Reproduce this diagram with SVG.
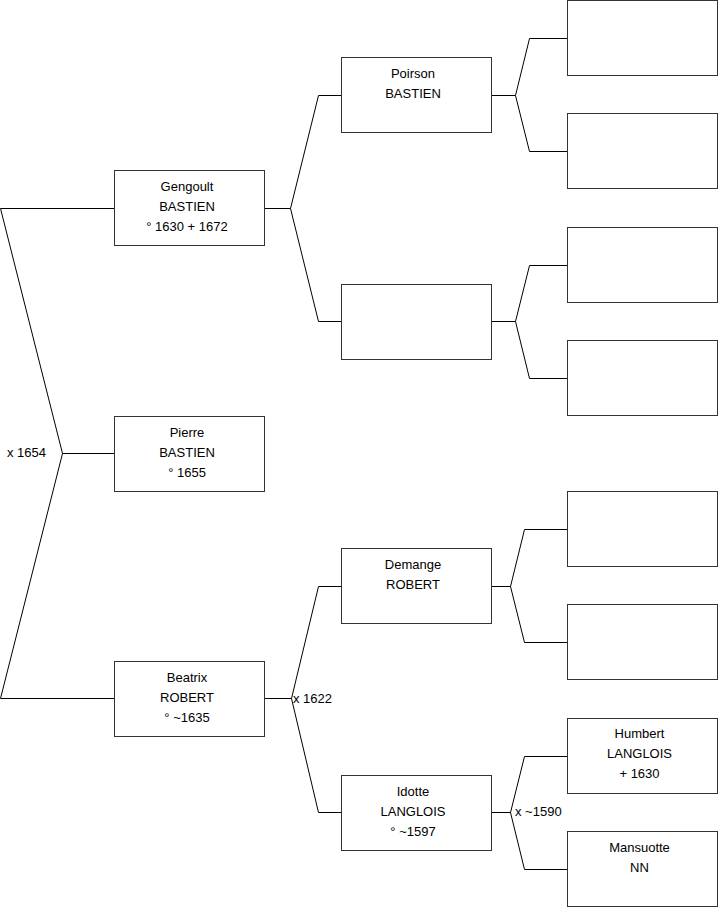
<svg xmlns="http://www.w3.org/2000/svg" width="719" height="908" viewBox="0 0 719 908">
<style>
.box{fill:#fff;stroke:#333;stroke-width:1}
.c{fill:none;stroke:#000;stroke-width:1}
text{font-family:"Liberation Sans",Arial,sans-serif;font-size:13px;fill:#000}
.m{text-anchor:middle}
</style>
<rect width="719" height="908" fill="#fff"/>
<g id="connectors">
<path class="c" d="M0.5,208.5 H114 M0.5,208.5 L62.5,453.5 L0.5,698.5 H114 M62.5,453.5 H114"/>
<path class="c" d="M265,208.5 H290.5 L318.5,95.5 H341 M290.5,208.5 L318.5,321.5 H341"/>
<path class="c" d="M265,698.5 H291.5 L318.5,586.5 H341 M291.5,698.5 L318.5,812.5 H341"/>
<path class="c" d="M491,95.5 H515.5 L529.5,38.5 H567 M515.5,95.5 L529.5,151.5 H567"/>
<path class="c" d="M491,321.5 H515.5 L529.5,265.5 H567 M515.5,321.5 L529.5,378.5 H567"/>
<path class="c" d="M491,586.5 H510.5 L524.5,529.5 H567 M510.5,586.5 L524.5,642.5 H567"/>
<path class="c" d="M491,812.5 H510.5 L524.5,756.5 H567 M510.5,812.5 L524.5,869.5 H567"/>
<text x="7" y="457">x 1654</text>
<text x="293" y="703">x 1622</text>
<text x="515" y="816">x ~1590</text>
</g>
<g id="gengoult"><rect class="box" x="114.5" y="170.5" width="150" height="75"/><text class="m" x="187" y="191">Gengoult</text><text class="m" x="187" y="211">BASTIEN</text><text class="m" x="187" y="231">° 1630 + 1672</text></g>
<g id="pierre"><rect class="box" x="114.5" y="416.5" width="150" height="75"/><text class="m" x="187" y="437">Pierre</text><text class="m" x="187" y="457">BASTIEN</text><text class="m" x="187" y="477">° 1655</text></g>
<g id="beatrix"><rect class="box" x="114.5" y="661.5" width="150" height="75"/><text class="m" x="187" y="682">Beatrix</text><text class="m" x="187" y="702">ROBERT</text><text class="m" x="187" y="722">° ~1635</text></g>
<g id="poirson"><rect class="box" x="341.5" y="57.5" width="150" height="75"/><text class="m" x="413" y="78">Poirson</text><text class="m" x="413" y="98">BASTIEN</text></g>
<g id="unknown1"><rect class="box" x="341.5" y="284.5" width="150" height="75"/></g>
<g id="demange"><rect class="box" x="341.5" y="548.5" width="150" height="75"/><text class="m" x="413" y="569">Demange</text><text class="m" x="413" y="589">ROBERT</text></g>
<g id="idotte"><rect class="box" x="341.5" y="775.5" width="150" height="75"/><text class="m" x="413" y="796">Idotte</text><text class="m" x="413" y="816">LANGLOIS</text><text class="m" x="413" y="836">° ~1597</text></g>
<g id="g3a"><rect class="box" x="567.5" y="0.5" width="150" height="75"/></g>
<g id="g3b"><rect class="box" x="567.5" y="113.5" width="150" height="75"/></g>
<g id="g3c"><rect class="box" x="567.5" y="227.5" width="150" height="75"/></g>
<g id="g3d"><rect class="box" x="567.5" y="340.5" width="150" height="75"/></g>
<g id="g3e"><rect class="box" x="567.5" y="491.5" width="150" height="75"/></g>
<g id="g3f"><rect class="box" x="567.5" y="604.5" width="150" height="75"/></g>
<g id="humbert"><rect class="box" x="567.5" y="718.5" width="150" height="75"/><text class="m" x="639.5" y="738">Humbert</text><text class="m" x="639.5" y="758">LANGLOIS</text><text class="m" x="639.5" y="778">+ 1630</text></g>
<g id="mansuotte"><rect class="box" x="567.5" y="831.5" width="150" height="75"/><text class="m" x="639.5" y="852">Mansuotte</text><text class="m" x="639.5" y="872">NN</text></g>
</svg>
